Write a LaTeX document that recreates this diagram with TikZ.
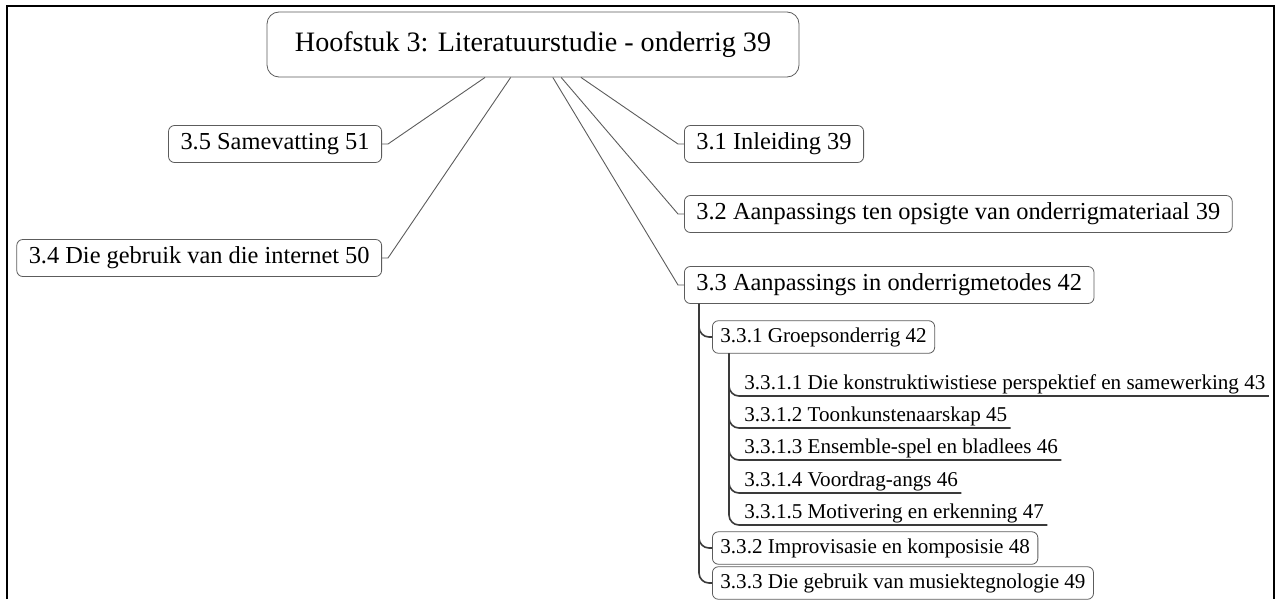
\documentclass[tikz,border=0pt]{standalone}
\usepackage{fontspec}
\setmainfont{Liberation Serif}
\definecolor{MKrub}{HTML}{5C5C5C}
\definecolor{MKdeblo}{HTML}{3A3A3A}
\colorlet{MKlinija}{MKrub}

\begin{document}
\begin{tikzpicture}[x=.5pt,y=-.5pt,
 MKkorijen/.style={draw=MKrub,rounded corners=6pt,font=\fontsize{14.05}{16}\selectfont,minimum width=266pt,minimum height=32.5pt},
 MKgrana/.style={draw=MKrub,rounded corners=3pt,font=\fontsize{12.2}{14}\selectfont,minimum height=18.5pt,inner xsep=6pt},
 MKpodgrana/.style={draw=MKrub,rounded corners=3pt,font=\fontsize{10.55}{12}\selectfont,minimum height=15pt,inner xsep=4pt,anchor=west},
 MKlist/.style={font=\fontsize{10.55}{12}\selectfont,anchor=south west,inner xsep=1.5pt,inner ysep=1pt},
 MKveza/.style={draw=MKlinija,line width=.45pt},
 MKstablo/.style={draw=MKdeblo,line width=.8pt,rounded corners=5pt}]
\useasboundingbox (0,0) rectangle (1277,599);
\draw[line width=.8pt] (7,599)--(7,6)--(1274,6)--(1274,599);
\node[MKkorijen] (hoof) at (533,44.5) {Hoofstuk 3: Literatuurstudie - onderrig 39};
\node[MKgrana,anchor=east] (s35) at (382,144) {3.5 Samevatting 51};
\node[MKgrana,anchor=east] (s34) at (382,258) {3.4 Die gebruik van die internet 50};
\node[MKgrana,anchor=west] (s31) at (684,144) {3.1 Inleiding 39};
\node[MKgrana,anchor=west] (s32) at (684,214) {3.2 Aanpassings ten opsigte van onderrigmateriaal 39};
\node[MKgrana,anchor=west] (s33) at (684,285) {3.3 Aanpassings in onderrigmetodes 42};
\foreach \cilj in {s31,s32,s33}{\draw[MKveza] (hoof)--([xshift=-3pt]\cilj.west)--(\cilj.west);}
\foreach \cilj in {s34,s35}{\draw[MKveza] (hoof)--([xshift=3pt]\cilj.east)--(\cilj.east);}
% 3.3
\node[MKpodgrana] (g331) at (712,337) {3.3.1 Groepsonderrig 42};
\node[MKpodgrana] (g332) at (712,548) {3.3.2 Improvisasie en komposisie 48};
\node[MKpodgrana] (g333) at (712,583) {3.3.3 Die gebruik van musiektegnologie 49};
\coordinate (t33) at ([xshift=7.5pt]s33.south west);
\foreach \cilj in {g331,g332,g333}{\draw[MKstablo] (t33) |- (\cilj.west);}
% 3.3.1
\foreach \y/\ime/\lab in {396/l1/{3.3.1.1 Die konstruktiwistiese perspektief en samewerking 43},
 428/l2/{3.3.1.2 Toonkunstenaarskap 45},460/l3/{3.3.1.3 Ensemble-spel en bladlees 46},
 493/l4/{3.3.1.4 Voordrag-angs 46},525/l5/{3.3.1.5 Motivering en erkenning 47}}{
 \node[MKlist] (\ime) at (741,\y) {\lab};}
\coordinate (t331) at ([xshift=8.5pt]g331.south west);
\foreach \cilj in {l1,l2,l3,l4,l5}{\draw[MKstablo] (t331) |- (\cilj.south east);}
\end{tikzpicture}
\end{document}
